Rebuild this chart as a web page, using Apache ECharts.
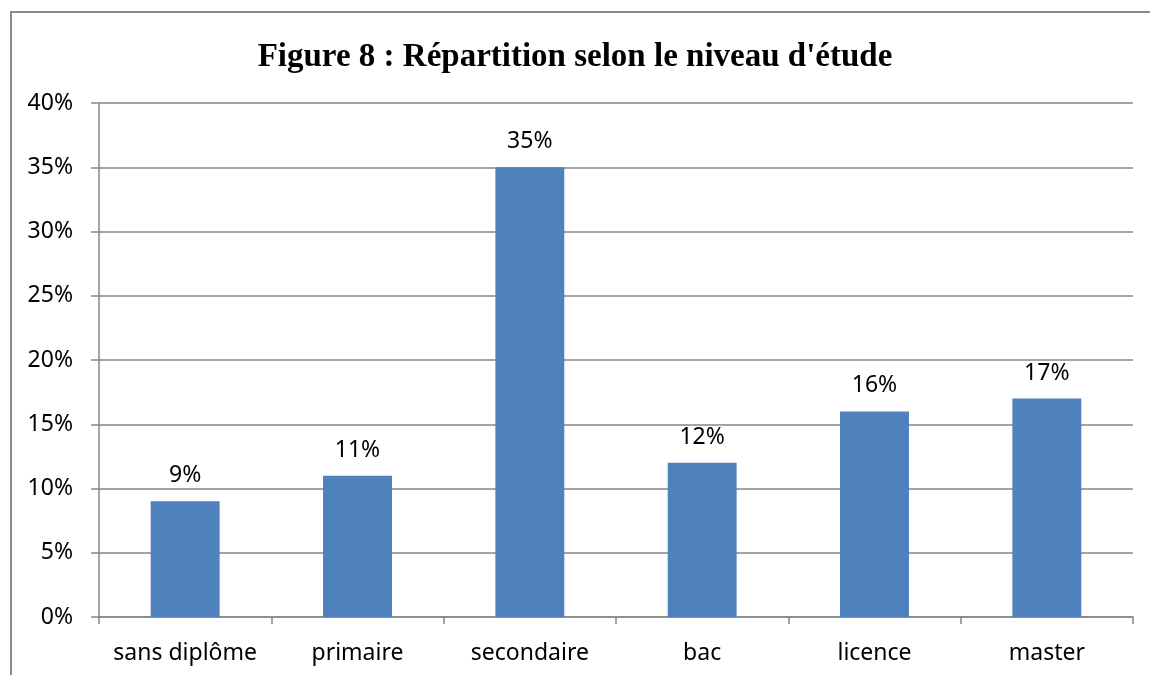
<!DOCTYPE html>
<html><head><meta charset="utf-8">
<script src="https://cdn.jsdelivr.net/npm/echarts@6/dist/echarts.min.js"></script>
<style>html,body{margin:0;padding:0;background:#fff}#c{width:1150px;height:675px}</style>
</head><body><div id="c"></div>
<script>
const categories = ['sans diplôme','primaire','secondaire','bac','licence','master'];
const values = [9, 11, 35, 12, 16, 17];
const titleText = "Figure 8 : Répartition selon le niveau d'étude";
const chart = echarts.init(document.getElementById('c'), null, {renderer:'canvas'});
chart.setOption({
  animation:false,
  backgroundColor:'#fff',
  title:{text:titleText,left:'center',top:36,textStyle:{fontFamily:'Liberation Serif',fontWeight:'bold',fontSize:33,color:'#000'}},
  graphic:[{type:'rect',shape:{x:11,y:12,width:1200,height:700},style:{fill:'none',stroke:'#8a8a8a',lineWidth:2},silent:true}],
  grid:{left:99,right:17,top:103,bottom:58,containLabel:false},
  xAxis:{type:'category',data:categories,
    axisLine:{lineStyle:{color:'#868686',width:1.5}},
    axisTick:{show:true,interval:0,length:7,lineStyle:{color:'#868686',width:1.5}},
    axisLabel:{interval:0,hideOverlap:false,margin:25,fontFamily:'Noto Sans',fontSize:23,color:'#000'}},
  yAxis:{type:'value',min:0,max:40,interval:5,
    axisLine:{show:true,lineStyle:{color:'#868686',width:1.5}},
    axisTick:{show:true,length:8,inside:false,lineStyle:{color:'#868686',width:1.5}},
    splitLine:{lineStyle:{color:'#868686',width:1.5}},
    axisLabel:{margin:26,fontFamily:'Noto Sans',fontSize:23,color:'#000',formatter:v=>v+'%'}},
  series:[{type:'bar',data:values,barWidth:'40%',itemStyle:{color:'#4F81BD'},
    label:{show:true,position:'top',distance:14,formatter:p=>p.value+'%',fontFamily:'Noto Sans',fontSize:23,color:'#000'}}]
});
</script></body></html>
